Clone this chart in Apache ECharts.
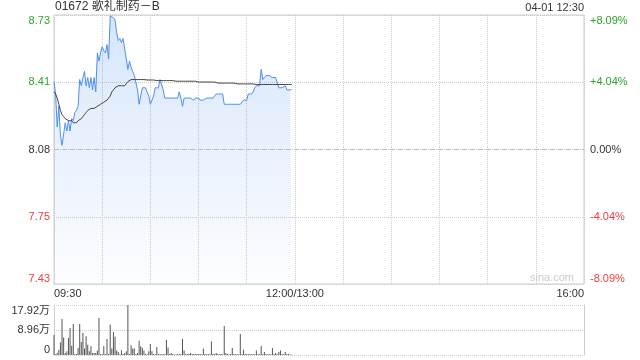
<!DOCTYPE html>
<html><head><meta charset="utf-8">
<script src="https://cdn.jsdelivr.net/npm/echarts@6/dist/echarts.min.js"></script>
<style>html,body{margin:0;padding:0;background:#fff}#c{width:640px;height:360px}</style>
</head><body><div id="c"></div>
<script>
const stockTitle = '01672 歌礼制药－B';
const stamp = '04-01 12:30';
const prevClose = 8.08;
const priceMin = 7.426, priceMax = 8.734;
const priceTickLabels = ['7.43', '7.75', '8.08', '8.41', '8.73'];
const pctTickLabels = ['-8.09%', '-4.04%', '0.00%', '+4.04%', '+8.09%'];
const timeTickLabels = ['09:30', '12:00/13:00', '16:00'];
const volMax = 17.92, volStep = 8.96;

const prices = [
  8.41, 8.35, 8.19, 8.29, 8.15, 8.10, 8.10, 8.21, 8.17, 8.22,
  8.17, 8.23, 8.22, 8.26, 8.27, 8.29, 8.42, 8.39, 8.43, 8.46,
  8.39, 8.43, 8.38, 8.43, 8.37, 8.43, 8.36, 8.55, 8.51, 8.55,
  8.58, 8.56, 8.55, 8.59, 8.52, 8.73, 8.73, 8.72, 8.71, 8.65,
  8.61, 8.62, 8.60, 8.62, 8.62, 8.52, 8.47, 8.51, 8.48, 8.46,
  8.44, 8.44, 8.37, 8.30, 8.30, 8.38, 8.38, 8.38, 8.38, 8.34,
  8.30, 8.30, 8.34, 8.38, 8.38, 8.38, 8.42, 8.42, 8.37, 8.33,
  8.33, 8.33, 8.33, 8.33, 8.33, 8.33, 8.33, 8.33, 8.36, 8.33,
  8.29, 8.33, 8.33, 8.33, 8.33, 8.33, 8.33, 8.32, 8.33, 8.33,
  8.33, 8.32, 8.32, 8.32, 8.32, 8.33, 8.33, 8.33, 8.33, 8.33,
  8.33, 8.35, 8.35, 8.35, 8.35, 8.35, 8.30, 8.30, 8.30, 8.30,
  8.30, 8.30, 8.30, 8.30, 8.30, 8.30, 8.30, 8.30, 8.32, 8.32,
  8.32, 8.35, 8.35, 8.35, 8.36, 8.38, 8.39, 8.39, 8.39, 8.47,
  8.42, 8.43, 8.44, 8.44, 8.44, 8.44, 8.43, 8.43, 8.43, 8.43,
  8.38, 8.38, 8.38, 8.38, 8.39, 8.37, 8.37, 8.37, 8.37
];

const avgPrices = [
  8.36, 8.35, 8.33, 8.30, 8.27, 8.25, 8.24, 8.23, 8.23, 8.22,
  8.22, 8.22, 8.21, 8.21, 8.21, 8.22, 8.22, 8.23, 8.24, 8.25,
  8.26, 8.27, 8.27, 8.28, 8.28, 8.28, 8.28, 8.29, 8.29, 8.30,
  8.30, 8.31, 8.31, 8.32, 8.33, 8.34, 8.36, 8.37, 8.38, 8.38,
  8.39, 8.39, 8.39, 8.39, 8.39, 8.40, 8.41, 8.41, 8.42, 8.42,
  8.420, 8.420, 8.420, 8.420, 8.420, 8.420, 8.420, 8.418, 8.418, 8.418,
  8.418, 8.418, 8.418, 8.415, 8.415, 8.415, 8.415, 8.415, 8.415, 8.415,
  8.415, 8.415, 8.415, 8.415, 8.415, 8.415, 8.412, 8.412, 8.412, 8.412,
  8.412, 8.412, 8.412, 8.412, 8.412, 8.412, 8.412, 8.412, 8.412, 8.408,
  8.408, 8.408, 8.408, 8.408, 8.408, 8.408, 8.408, 8.408, 8.408, 8.408,
  8.408, 8.403, 8.403, 8.403, 8.403, 8.403, 8.403, 8.403, 8.403, 8.403,
  8.403, 8.403, 8.403, 8.399, 8.399, 8.399, 8.399, 8.399, 8.399, 8.399,
  8.399, 8.399, 8.399, 8.399, 8.399, 8.399, 8.396, 8.396, 8.396, 8.396,
  8.396, 8.396, 8.396, 8.396, 8.396, 8.396, 8.396, 8.396, 8.396, 8.396,
  8.396, 8.396, 8.396, 8.396, 8.396, 8.396, 8.396, 8.396, 8.396
];

// volume in 万
const volumes = [
  7.2, 0.3, 0.7, 1.9, 4.5, 12.9, 6.3, 0.7, 1.3, 6.1,
  9.7, 3.3, 11.1, 0.4, 0.4, 2.5, 11.1, 4.7, 7.9, 2.3,
  6.7, 3.7, 1.3, 3.1, 0.7, 0.7, 0.7, 1.6, 13.3, 0.4,
  0.3, 3.1, 0.4, 5.7, 0.4, 10.9, 2.3, 8.2, 6.5, 1.6,
  1.1, 0.3, 1.7, 0.4, 0.7, 1.3, 17.92, 0.4, 3.5, 2.3,
  2.3, 0.4, 0.7, 5.1, 3.1, 2.5, 1.6, 0.4, 0.3, 1.3,
  3.9, 1.3, 0.4, 0.3, 2.9, 0.4, 0.4, 0.3, 0.4, 0.3,
  5.5, 2.7, 0.4, 0.7, 0.4, 0.2, 0.2, 0.4, 0.4, 0.3,
  5.7, 1.6, 0.4, 0.4, 0.4, 0.7, 0.4, 0.4, 0.4, 0.4,
  0.3, 0.4, 0.3, 2.3, 0.4, 0.3, 0.4, 0.3, 4.8, 0.4,
  0.4, 0.7, 0.4, 0.3, 0.4, 0.3, 10.4, 0.7, 0.4, 0.3,
  0.4, 2.5, 0.4, 0.3, 0.4, 0.3, 7.5, 0.3, 1.9, 0.4,
  0.4, 0.3, 0.4, 0.3, 0.4, 0.3, 1.6, 0.4, 0.3, 3.2,
  0.4, 1.1, 0.4, 0.3, 0.4, 0.3, 2.5, 0.4, 0.7, 0.3,
  1.1, 1.6, 0.4, 0.3, 1.1, 0.4, 0.4, 0.2, 0.2
];

function hm(m) {
  const h = Math.floor(m / 60), mm = m % 60;
  return (h < 10 ? '0' : '') + h + ':' + (mm < 10 ? '0' : '') + mm;
}
const categories = [];
for (let m = 570; m < 720; m++) categories.push(hm(m));
categories.push(timeTickLabels[1]);
for (let m = 781; m <= 960; m++) categories.push(hm(m));
const lastIdx = categories.length - 1;

const FONT = '"Liberation Sans", Arial, "Noto Sans CJK SC", sans-serif';
const GREEN = '#2aa52a', RED = '#f23c3c', DARK = '#333';
const labelColors = [RED, RED, DARK, GREEN, GREEN];
const richColors = {};
labelColors.forEach((c, i) => { richColors['c' + i] = {color: c, fontSize: 11, fontFamily: FONT}; });

const chart = echarts.init(document.getElementById('c'), null, {renderer: 'canvas'});
chart.setOption({
  animation: false,
  backgroundColor: '#fff',
  textStyle: {fontFamily: FONT},
  title: [
    {text: stockTitle, left: 55, top: 1, padding: 0, textStyle: {fontSize: 12, fontWeight: 'normal', color: '#333', fontFamily: FONT}},
    {text: stamp, right: 56, top: 2, padding: 0, textStyle: {fontSize: 11, fontWeight: 'normal', color: '#333', fontFamily: FONT}}
  ],
  grid: [
    {left: 54, right: 56, top: 15, height: 269, show: true, borderColor: '#ccc', borderWidth: 1},
    {left: 54, right: 56, top: 305, height: 50, show: false}
  ],
  xAxis: [
    {
      gridIndex: 0, type: 'category', data: categories, boundaryGap: false,
      axisLine: {show: false}, axisTick: {show: false},
      axisLabel: {
        interval: (i) => i === 0 || i === 150 || i === lastIdx,
        color: '#333', fontSize: 11, margin: 4, fontFamily: FONT,
        alignMinLabel: 'left', alignMaxLabel: 'right'
      },
      splitLine: {show: true, interval: (i) => i % 30 === 0, lineStyle: {color: '#ccc', type: 'dotted'}}
    },
    {
      gridIndex: 1, type: 'category', data: categories, boundaryGap: false,
      axisLine: {show: false}, axisTick: {show: false}, axisLabel: {show: false}, splitLine: {show: false}
    }
  ],
  yAxis: [
    {gridIndex: 0, type: 'value', min: priceMin, max: priceMax, show: false},
    {
      gridIndex: 0, type: 'value', min: -2, max: 2, interval: 1, position: 'left',
      axisLine: {show: false}, axisTick: {show: false},
      splitLine: {show: true, lineStyle: {color: '#ccc', type: 'dotted'}},
      axisLabel: {
        margin: 4, fontSize: 11, fontFamily: FONT,
        verticalAlignMinLabel: 'bottom', verticalAlignMaxLabel: 'top',
        formatter: (v) => '{c' + (v + 2) + '|' + priceTickLabels[v + 2] + '}',
        rich: richColors
      }
    },
    {
      gridIndex: 0, type: 'value', min: -2, max: 2, interval: 1, position: 'right',
      axisLine: {show: false}, axisTick: {show: false}, splitLine: {show: false},
      axisLabel: {
        margin: 6, fontSize: 11, fontFamily: FONT,
        verticalAlignMinLabel: 'bottom', verticalAlignMaxLabel: 'top',
        formatter: (v) => '{c' + (v + 2) + '|' + pctTickLabels[v + 2] + '}',
        rich: richColors
      }
    },
    {
      gridIndex: 1, type: 'value', min: 0, max: volMax, interval: volStep, position: 'left',
      axisLine: {show: true, lineStyle: {color: '#ccc'}}, axisTick: {show: false},
      splitLine: {show: true, lineStyle: {color: '#ccc', type: 'dotted'}},
      axisLabel: {
        margin: 4, fontSize: 11, color: '#333', fontFamily: FONT,
        verticalAlignMinLabel: 'bottom', verticalAlignMaxLabel: 'top',
        formatter: (v) => v === 0 ? '0' : v.toFixed(2) + '万'
      }
    },
    {
      gridIndex: 1, type: 'value', min: 0, max: volMax, interval: volStep, position: 'right',
      axisLine: {show: true, lineStyle: {color: '#ccc'}}, axisTick: {show: false},
      splitLine: {show: false}, axisLabel: {show: false}
    }
  ],
  graphic: [
    {type: 'text', right: 66, top: 272, style: {text: 'sina.com', fill: '#ccc', font: '11px ' + FONT}}
  ],
  series: [
    {
      type: 'line', xAxisIndex: 0, yAxisIndex: 0, data: prices, symbol: 'none',
      lineStyle: {color: '#4d8ff0', width: 1},
      areaStyle: {
        color: new echarts.graphic.LinearGradient(0, 0, 0, 1, [
          {offset: 0, color: 'rgba(77,143,240,0.32)'},
          {offset: 1, color: 'rgba(77,143,240,0.02)'}
        ])
      },
      markLine: {
        silent: true, symbol: 'none', label: {show: false},
        lineStyle: {color: '#bbb', type: [5, 3], width: 1},
        data: [{yAxis: prevClose}]
      },
      z: 3
    },
    {
      type: 'line', xAxisIndex: 0, yAxisIndex: 0, data: avgPrices, symbol: 'none',
      lineStyle: {color: '#444', width: 1}, z: 4
    },
    {
      type: 'bar', xAxisIndex: 1, yAxisIndex: 3, data: volumes, barWidth: 1,
      itemStyle: {color: '#555'}
    }
  ]
});
</script>
</body></html>
